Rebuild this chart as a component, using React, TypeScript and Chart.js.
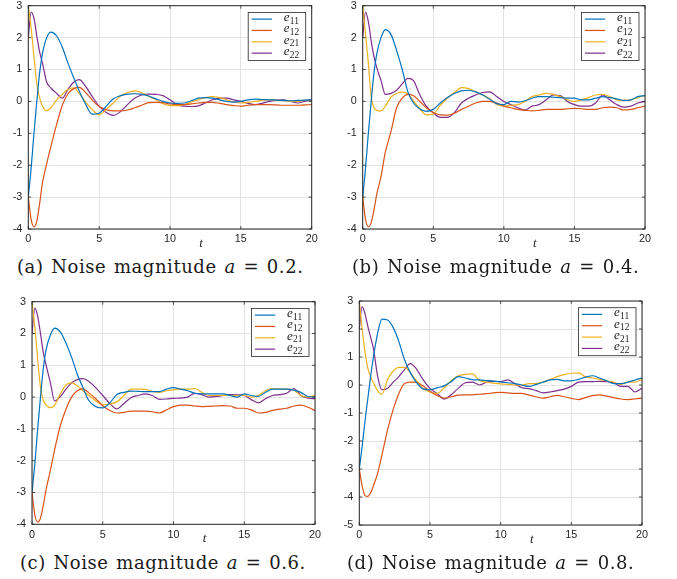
import { useEffect, useRef } from "react";
import { Chart, registerables } from "chart.js";

Chart.register(...registerables);

// time samples shared by every curve
const T = [
  0, 0.2, 0.4, 0.6, 0.8, 1, 1.3, 1.6, 2, 2.4, 2.8, 3.2, 3.6,
  4, 4.5, 5, 5.5, 6, 6.5, 7, 7.5, 8, 8.5, 9, 9.5, 10,
  10.5, 11, 11.5, 12, 12.5, 13, 13.5, 14, 14.5, 15, 15.5, 16, 16.5, 17, 17.5, 18, 18.5, 19, 19.5, 20,
];

// (a) a = 0.2
const E11_A = [
  -3, -2.1, -1.0, 0.0, 0.9, 1.5, 2.0, 2.17, 2.05, 1.7, 1.2, 0.75, 0.32,
  -0.05, -0.4, -0.37, -0.15, 0.08, 0.18, 0.23, 0.24, 0.23, 0.17, 0.08, 0.0, -0.05,
  -0.06, -0.05, 0.02, 0.1, 0.12, 0.1, 0.05, 0.0, -0.02, 0.0, 0.05, 0.07, 0.06, 0.05, 0.04, 0.03, 0.02, 0.03, 0.04, 0.05,
];
const E12_A = [
  -3, -3.7, -3.93, -3.75, -3.2, -2.55, -1.95, -1.4, -0.72, -0.12, 0.24, 0.4, 0.44,
  0.3, 0.05, -0.16, -0.26, -0.3, -0.3, -0.27, -0.2, -0.12, -0.04, -0.03, -0.04, -0.08,
  -0.1, -0.1, -0.08, -0.05, -0.03, -0.03, -0.06, -0.1, -0.13, -0.15, -0.12, -0.1, -0.1, -0.1, -0.11, -0.12, -0.12, -0.12, -0.11, -0.1,
];
const E21_A = [
  3, 2.3, 1.4, 0.55, 0.1, -0.15, -0.29, -0.2, 0.05, 0.22, 0.38, 0.42, 0.25,
  0.0, -0.25, -0.42, -0.25, -0.05, 0.17, 0.28, 0.33, 0.28, 0.16, 0.05, -0.07, -0.13,
  -0.13, -0.1, -0.02, 0.05, 0.12, 0.15, 0.12, 0.05, -0.02, -0.05, -0.03, 0.0, 0.03, 0.05, 0.04, 0.02, 0.0, 0.0, 0.03, 0.05,
];
const E22_A = [
  2.0, 2.8, 2.6, 2.05, 1.55, 1.2, 0.6, 0.42, 0.25, 0.1, 0.38, 0.6, 0.68,
  0.5, 0.16, -0.15, -0.35, -0.44, -0.32, -0.1, 0.1, 0.2, 0.23, 0.22, 0.18, 0.05,
  -0.1, -0.15, -0.16, -0.14, -0.05, 0.05, 0.1, 0.1, 0.05, 0.0, -0.06, -0.1, -0.06, 0.0, 0.04, 0.05, 0.0, -0.05, 0.0, 0.05,
];

// (b) a = 0.4
const E11_B = [
  -3, -2.1, -1.0, 0.0, 0.9, 1.5, 2.0, 2.25, 2.1, 1.6, 1.0, 0.3, -0.05,
  -0.22, -0.31, -0.25, -0.05, 0.12, 0.25, 0.33, 0.35, 0.3, 0.2, 0.07, -0.07, -0.1,
  0.0, -0.02, 0.02, 0.1, 0.15, 0.15, 0.13, 0.12, 0.1, 0.1, 0.05, 0.05, 0.1, 0.15, 0.12, 0.08, 0.03, 0.05, 0.15, 0.18,
];
const E12_B = [
  -3, -3.7, -3.93, -3.8, -3.4, -2.9, -2.35, -1.6, -0.95, -0.2, 0.1, 0.22, 0.18,
  0.02, -0.2, -0.35, -0.42, -0.43, -0.37, -0.25, -0.15, -0.05, 0.0, 0.0, -0.05, -0.15,
  -0.2, -0.25, -0.28, -0.3, -0.28, -0.25, -0.25, -0.25, -0.23, -0.22, -0.23, -0.25, -0.25, -0.2, -0.18, -0.2, -0.27, -0.25, -0.2, -0.15,
];
const E21_B = [
  3, 2.1, 1.2, 0.15, -0.2, -0.28, -0.3, -0.15, 0.13, 0.25, 0.29, 0.24, 0.02,
  -0.2, -0.42, -0.4, -0.12, 0.1, 0.28, 0.43, 0.4, 0.3, 0.2, 0.08, -0.1, -0.15,
  -0.12, -0.1, 0.0, 0.15, 0.2, 0.25, 0.22, 0.15, 0.05, 0.0, 0.05, 0.12, 0.2, 0.22, 0.15, 0.05, 0.03, 0.05, 0.12, 0.18,
];
const E22_B = [
  2.0, 2.8, 2.5, 1.9, 1.4, 1.05, 0.65, 0.22, 0.25, 0.35, 0.55, 0.72, 0.65,
  0.25, -0.15, -0.36, -0.5, -0.5, -0.35, -0.05, 0.1, 0.2, 0.28, 0.3, 0.15, 0.0,
  -0.1, -0.2, -0.27, -0.15, -0.1, 0.05, 0.2, 0.18, 0.0, -0.1, -0.15, -0.15, -0.05, 0.2, 0.05, -0.1, -0.18, -0.15, -0.05, 0.0,
];

// (c) a = 0.6
const E11_C = [
  -3, -2.1, -1.0, 0.0, 0.9, 1.5, 1.95, 2.17, 2.05, 1.7, 1.25, 0.72, 0.3,
  -0.1, -0.3, -0.34, -0.18, 0.08, 0.15, 0.19, 0.18, 0.17, 0.17, 0.17, 0.25, 0.3,
  0.25, 0.2, 0.12, 0.1, 0.1, 0.1, 0.1, 0.05, 0.0, 0.1, 0.05, 0.02, 0.15, 0.25, 0.25, 0.25, 0.22, 0.15, 0.02, 0.0,
];
const E12_C = [
  -3, -3.7, -3.93, -3.8, -3.4, -2.9, -2.3, -1.65, -0.9, -0.38, 0.0, 0.2, 0.26,
  0.14, -0.05, -0.27, -0.42, -0.5, -0.48, -0.44, -0.44, -0.44, -0.46, -0.5, -0.4, -0.3,
  -0.25, -0.25, -0.28, -0.3, -0.29, -0.28, -0.27, -0.28, -0.35, -0.35, -0.4, -0.5, -0.48, -0.42, -0.38, -0.35, -0.28, -0.25, -0.32, -0.42,
];
const E21_C = [
  3, 2.2, 1.2, 0.3, -0.1, -0.25, -0.33, -0.25, 0.1, 0.38, 0.45, 0.36, 0.2,
  0.06, -0.12, -0.24, -0.22, -0.15, 0.05, 0.25, 0.25, 0.24, 0.18, 0.15, 0.2, 0.23,
  0.25, 0.25, 0.27, 0.15, 0.05, 0.05, 0.05, 0.05, 0.05, 0.05, 0.0, 0.05, 0.2, 0.27, 0.25, 0.25, 0.22, 0.05, 0.0, 0.05,
];
const E22_C = [
  2.0, 2.8, 2.55, 2.0, 1.4, 1.0, 0.45, -0.12, 0.02, 0.25, 0.45, 0.55, 0.58,
  0.5, 0.3, 0.05, -0.2, -0.37, -0.2, -0.02, 0.05, 0.1, 0.05, -0.07, -0.06, -0.04,
  -0.03, 0.0, 0.12, 0.08, 0.0, 0.02, 0.05, 0.08, 0.07, 0.05, -0.08, -0.18, -0.05, 0.05, 0.08, 0.12, 0.27, 0.05, -0.03, -0.05,
];

// (d) a = 0.8
const E11_D = [
  -3, -2.2, -1.3, -0.5, 0.3, 1.0, 1.85, 2.35, 2.32, 2.05, 1.55, 0.9, 0.45,
  0.12, -0.14, -0.17, -0.1, -0.03, 0.12, 0.3, 0.25, 0.19, 0.18, 0.16, 0.14, 0.11,
  0.08, 0.05, 0.0, -0.05, 0.02, 0.1, 0.18, 0.2, 0.15, 0.15, 0.2, 0.28, 0.33, 0.25, 0.15, 0.05, 0.05, 0.1, 0.18, 0.25,
];
const E12_D = [
  -3, -3.6, -3.95, -3.98, -3.85, -3.6, -3.15, -2.5, -1.6, -0.87, -0.3, 0.05, 0.1,
  0.1, -0.03, -0.22, -0.38, -0.47, -0.42, -0.36, -0.35, -0.35, -0.33, -0.31, -0.28, -0.26,
  -0.28, -0.3, -0.3, -0.36, -0.42, -0.47, -0.42, -0.37, -0.42, -0.48, -0.52, -0.45, -0.38, -0.35, -0.4, -0.45, -0.5, -0.52, -0.5, -0.47,
];
const E21_D = [
  3, 2.0, 1.2, 0.6, 0.3, 0.08, -0.2, -0.33, 0.2, 0.5, 0.63, 0.63, 0.45,
  0.18, -0.12, -0.26, -0.3, -0.1, 0.15, 0.33, 0.38, 0.4, 0.16, 0.1, 0.07, 0.04,
  0.02, 0.0, 0.0, 0.05, 0.05, 0.1, 0.2, 0.3, 0.37, 0.42, 0.43, 0.3, 0.25, 0.2, 0.15, 0.1, 0.02, 0.1, 0.1, 0.2,
];
const E22_D = [
  2.0, 2.8, 2.55, 2.1, 1.7, 1.3, 0.3, -0.17, -0.12, 0.1, 0.3, 0.55, 0.76,
  0.6, 0.2, -0.12, -0.3, -0.5, -0.35, -0.12, 0.08, 0.1, 0.0, 0.1, 0.13, 0.12,
  0.18, 0.05, -0.1, -0.13, -0.2, -0.28, -0.25, -0.2, -0.15, -0.05, 0.1, 0.12, 0.12, 0.13, 0.12, 0.08, -0.05, -0.05, -0.25, -0.12,
];

const SUBSCRIPTS = ["11", "12", "21", "22"];
const SERIES_COLORS = ["#0072BD", "#D95319", "#EDB120", "#7E2F8E"];
const X_TICKS = [0, 5, 10, 15, 20];
const Y_TICKS = [-4, -3, -2, -1, 0, 1, 2, 3];
const Y_TICKS_D = [-5, -4, -3, -2, -1, 0, 1, 2, 3];
const PANEL_LETTERS = ["a", "b", "c", "d"];
const NOISE_LEVELS = ["0.2", "0.4", "0.6", "0.8"];
const T_LABEL_AT = 12.2;

const AXIS_COLOR = "#262626";
const GRID_COLOR = "#e3e3e3";

interface PanelLayout {
  left: number;
  top: number;
  width: number;
  height: number;
  plot: { left: number; right: number; top: number; bottom: number }; // page coords
  captionLeft: number;
  captionTop: number;
}

const LAYOUTS: PanelLayout[] = [
  { left: 0, top: 0, width: 340, height: 252, plot: { left: 28.3, right: 311.7, top: 5.7, bottom: 229 }, captionLeft: 17, captionTop: 258 },
  { left: 336, top: 0, width: 341, height: 252, plot: { left: 362.7, right: 645, top: 5.7, bottom: 229 }, captionLeft: 352, captionTop: 258 },
  { left: 0, top: 292, width: 340, height: 255, plot: { left: 32, right: 315, top: 301.7, bottom: 524.3 }, captionLeft: 20, captionTop: 554 },
  { left: 336, top: 292, width: 341, height: 255, plot: { left: 359.3, right: 642, top: 301, bottom: 525 }, captionLeft: 347, captionTop: 554 },
];

const framePlugin = {
  id: "matlabFrame",
  afterDatasetsDraw(chart: Chart) {
    const { ctx, chartArea: a } = chart;
    const xs = chart.scales.x;
    const ys = chart.scales.y;
    ctx.save();

    // inward tick marks on all four sides
    ctx.strokeStyle = AXIS_COLOR;
    ctx.lineWidth = 0.8;
    ctx.beginPath();
    xs.ticks.forEach((t) => {
      const px = xs.getPixelForValue(t.value);
      ctx.moveTo(px, a.bottom);
      ctx.lineTo(px, a.bottom - 3);
      ctx.moveTo(px, a.top);
      ctx.lineTo(px, a.top + 3);
    });
    ys.ticks.forEach((t) => {
      const py = ys.getPixelForValue(t.value);
      ctx.moveTo(a.left, py);
      ctx.lineTo(a.left + 3, py);
      ctx.moveTo(a.right, py);
      ctx.lineTo(a.right - 3, py);
    });
    ctx.stroke();

    ctx.lineWidth = 1;
    ctx.strokeRect(a.left, a.top, a.right - a.left, a.bottom - a.top);

    // axis label t
    ctx.fillStyle = AXIS_COLOR;
    ctx.font = 'italic 13px "Liberation Serif"';
    ctx.textAlign = "center";
    ctx.textBaseline = "middle";
    ctx.fillText("t", xs.getPixelForValue(T_LABEL_AT), a.bottom + 14.3);

    // legend box
    const bw = 57.5;
    const bh = 48;
    const bx = a.right - 6 - bw;
    const by = a.top + 6.7;
    ctx.fillStyle = "#ffffff";
    ctx.fillRect(bx, by, bw, bh);
    ctx.strokeStyle = AXIS_COLOR;
    ctx.lineWidth = 0.8;
    ctx.strokeRect(bx, by, bw, bh);
    chart.data.datasets.forEach((ds, i) => {
      const ry = by + 6.7 + i * 11.35;
      ctx.strokeStyle = ds.borderColor as string;
      ctx.lineWidth = 1.2;
      ctx.beginPath();
      ctx.moveTo(bx + 3.4, ry);
      ctx.lineTo(bx + 23.7, ry);
      ctx.stroke();
      ctx.fillStyle = "#222";
      ctx.textAlign = "left";
      ctx.textBaseline = "alphabetic";
      ctx.font = 'italic 13px "Liberation Serif"';
      ctx.fillText("e", bx + 35.5, ry + 1.8);
      const ew = ctx.measureText("e").width;
      ctx.font = '9.5px "Liberation Serif"';
      ctx.fillText(SUBSCRIPTS[i], bx + 35.5 + ew + 0.3, ry + 4.6);
    });

    ctx.restore();
  },
};

interface PanelProps {
  series: number[][];
  yMin: number;
  yTicks: number[];
  layout: PanelLayout;
  letter: string;
  level: string;
}

const Panel = ({ series, yMin, yTicks, layout, letter, level }: PanelProps) => {
  const canvasRef = useRef<HTMLCanvasElement | null>(null);

  useEffect(() => {
    if (!canvasRef.current) return;
    const p = layout.plot;
    const yAxisWidth = p.left - layout.left;
    const padRight = layout.left + layout.width - p.right;
    const padTop = p.top - layout.top;
    const xAxisHeight = layout.top + layout.height - p.bottom;
    const tickFont = { family: '"Liberation Sans", Arial, sans-serif', size: 10.8 };

    const chart = new Chart(canvasRef.current, {
      type: "line",
      data: {
        datasets: series.map((ys, i) => ({
          label: "e" + SUBSCRIPTS[i],
          data: T.map((t, k) => ({ x: t, y: ys[k] })),
          borderColor: SERIES_COLORS[i],
          borderWidth: 1.2,
          pointRadius: 0,
          fill: false,
          cubicInterpolationMode: "monotone" as const,
        })),
      },
      options: {
        animation: false,
        responsive: false,
        maintainAspectRatio: false,
        layout: { padding: { left: 0, right: padRight, top: padTop, bottom: 0 } },
        plugins: { legend: { display: false }, tooltip: { enabled: false } },
        scales: {
          x: {
            type: "linear",
            min: 0,
            max: 20,
            afterBuildTicks: (s) => {
              s.ticks = X_TICKS.map((v) => ({ value: v }));
            },
            ticks: { padding: 4, color: AXIS_COLOR, font: tickFont, maxRotation: 0 },
            grid: { color: GRID_COLOR, drawTicks: false },
            border: { display: false },
            afterFit: (s) => {
              s.height = xAxisHeight;
              s.paddingLeft = 0;
              s.paddingRight = 0;
            },
          },
          y: {
            type: "linear",
            min: yMin,
            max: 3,
            afterBuildTicks: (s) => {
              s.ticks = yTicks.map((v) => ({ value: v }));
            },
            ticks: { padding: 6, color: AXIS_COLOR, font: tickFont },
            grid: { color: GRID_COLOR, drawTicks: false },
            border: { display: false },
            afterFit: (s) => {
              s.width = yAxisWidth;
              s.paddingTop = 0;
              s.paddingBottom = 0;
            },
          },
        },
      },
      plugins: [framePlugin],
    });

    return () => {
      chart.destroy();
    };
  }, [series, yMin, yTicks, layout]);

  return (
    <>
      <canvas
        ref={canvasRef}
        width={layout.width}
        height={layout.height}
        style={{ position: "absolute", left: layout.left, top: layout.top, width: layout.width, height: layout.height }}
      />
      <div
        style={{
          position: "absolute",
          left: layout.captionLeft,
          top: layout.captionTop,
          font: '18px "DejaVu Serif"',
          lineHeight: "18px",
          letterSpacing: "0.55px",
          wordSpacing: "1.5px",
          whiteSpace: "nowrap",
          color: "#1a1a1a",
        }}
      >
        ({letter}) Noise magnitude <i>a</i> = {level}.
      </div>
    </>
  );
};

const PANEL_SERIES = [
  [E11_A, E12_A, E21_A, E22_A],
  [E11_B, E12_B, E21_B, E22_B],
  [E11_C, E12_C, E21_C, E22_C],
  [E11_D, E12_D, E21_D, E22_D],
];

export default function App() {
  return (
    <div style={{ position: "absolute", left: 0, top: 0, width: 677, height: 579, background: "#fff" }}>
      {PANEL_SERIES.map((s, i) => (
        <Panel
          key={i}
          series={s}
          yMin={i === 3 ? -5 : -4}
          yTicks={i === 3 ? Y_TICKS_D : Y_TICKS}
          layout={LAYOUTS[i]}
          letter={PANEL_LETTERS[i]}
          level={NOISE_LEVELS[i]}
        />
      ))}
    </div>
  );
}
